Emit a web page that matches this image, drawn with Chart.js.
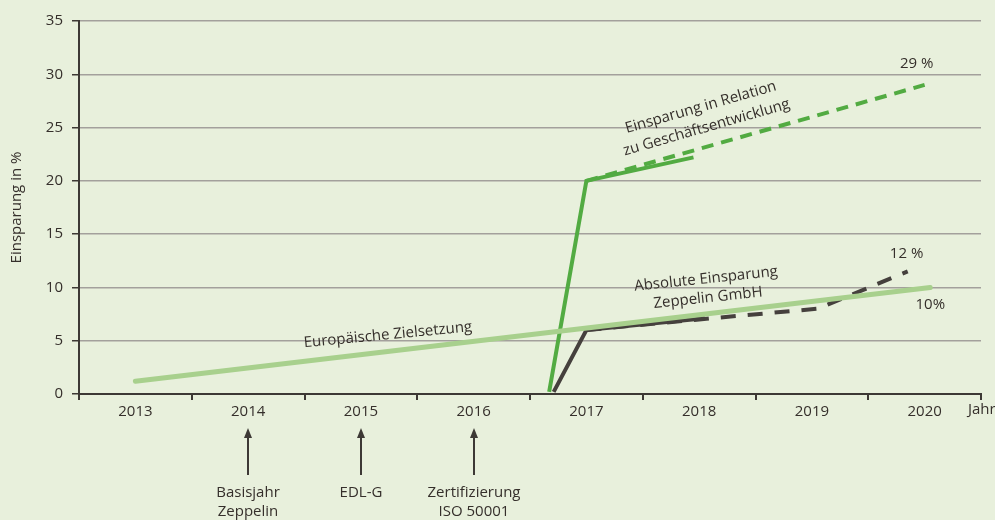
<!DOCTYPE html>
<html>
<head>
<meta charset="utf-8">
<script src="https://cdn.jsdelivr.net/npm/chart.js@4"></script>
<style>
  html, body { margin: 0; padding: 0; background: #e8f0dc; }
  #wrap { width: 995px; height: 520px; }
</style>
</head>
<body>
<div id="wrap"><canvas id="grafico" width="995" height="520"></canvas></div>
<script>
// Jahre (Achsenbeschriftung)
const jahre = [2013, 2014, 2015, 2016, 2017, 2018, 2019, 2020];
const yTicks = [0, 5, 10, 15, 20, 25, 30, 35];

// Europäische Zielsetzung
const zielX = [2013, 2020.05];
const zielY = [1.2, 10];

// Einsparung in Relation zu Geschäftsentwicklung
const relX = [2016.67, 2017, 2017.95];
const relY = [0.2, 20, 22.2];
const relPlanX = [2017, 2020];
const relPlanY = [20, 29];

// Absolute Einsparung Zeppelin GmbH
const absX = [2016.71, 2017, 2018.05];
const absY = [0.2, 6, 7.1];
const absPlanX = [2017, 2018, 2019.05, 2019.85];
const absPlanY = [6, 7, 8, 11.5];

// Ereignisse unter der Achse
const ereignisJahre = [2014, 2015, 2016];
const ereignisTexte = [["Basisjahr", "Zeppelin"], ["EDL-G"], ["Zertifizierung", "ISO 50001"]];

const schrift = "'Open Sans', sans-serif";
const textFarbe = "#352f2b";
const dunkel = "#3d3935";

function punkte(xs, ys) {
  return xs.map((x, i) => ({ x: x, y: ys[i] }));
}

function drehText(ctx, zeilen, px, py, winkel, abstand) {
  ctx.save();
  ctx.translate(px, py);
  ctx.rotate(winkel * Math.PI / 180);
  const n = zeilen.length;
  zeilen.forEach((z, i) => {
    ctx.fillText(z, 0, (i - (n - 1) / 2) * abstand);
  });
  ctx.restore();
}

const beschriftung = {
  id: "beschriftung",
  afterDraw(chart) {
    const ctx = chart.ctx;
    const xs = chart.scales.x;
    const ys = chart.scales.y;
    const unten = chart.chartArea.bottom;
    ctx.save();
    ctx.fillStyle = textFarbe;
    ctx.font = "15px " + schrift;
    ctx.textAlign = "center";
    ctx.textBaseline = "middle";

    drehText(ctx, ["Einsparung in Relation", "zu Geschäftsentwicklung"],
      xs.getPixelForValue(2018.04), ys.getPixelForValue(25.95), -16, 21);
    drehText(ctx, ["Absolute Einsparung", "Zeppelin GmbH"],
      xs.getPixelForValue(2018.07), ys.getPixelForValue(9.9), -6, 19);
    drehText(ctx, ["Europäische Zielsetzung"],
      xs.getPixelForValue(2015.24), ys.getPixelForValue(5.54), -5.5, 0);

    ctx.fillText("29 %", xs.getPixelForValue(2019.93), ys.getPixelForValue(30.96));
    ctx.fillText("12 %", xs.getPixelForValue(2019.84), ys.getPixelForValue(13.2));
    ctx.fillText("10%", xs.getPixelForValue(2020.05), ys.getPixelForValue(8.35));

    ctx.textAlign = "left";
    ctx.fillText("Jahr", chart.chartArea.right - 13, unten + 16);

    // Pfeile
    ctx.strokeStyle = dunkel;
    ctx.lineWidth = 2;
    ereignisJahre.forEach((j, i) => {
      const px = Math.round(xs.getPixelForValue(j));
      ctx.beginPath();
      ctx.moveTo(px, unten + 81);
      ctx.lineTo(px, unten + 42);
      ctx.stroke();
      ctx.beginPath();
      ctx.moveTo(px, unten + 34);
      ctx.lineTo(px - 4, unten + 44);
      ctx.lineTo(px + 4, unten + 44);
      ctx.closePath();
      ctx.fillStyle = dunkel;
      ctx.fill();
      ctx.fillStyle = textFarbe;
      ctx.textAlign = "center";
      ereignisTexte[i].forEach((t, k) => {
        ctx.fillText(t, px, unten + 99 + k * 19);
      });
    });
    ctx.restore();
  }
};

new Chart(document.getElementById("grafico"), {
  type: "line",
  data: {
    datasets: [
      { data: punkte(zielX, zielY), borderColor: "#a8d08d", borderWidth: 5, borderCapStyle: "round" },
      { data: punkte(absX, absY), borderColor: "#45403d", borderWidth: 4 },
      { data: punkte(absPlanX, absPlanY), borderColor: "#45403d", borderWidth: 4, borderDash: [15, 12] },
      { data: punkte(relX, relY), borderColor: "#52ab42", borderWidth: 4 },
      { data: punkte(relPlanX, relPlanY), borderColor: "#52ab42", borderWidth: 4, borderDash: [12, 8] }
    ]
  },
  options: {
    responsive: false,
    animation: false,
    devicePixelRatio: 1,
    layout: { padding: { top: 21, right: 14, bottom: 0, left: 0 } },
    elements: {
      point: { radius: 0 },
      line: { tension: 0, fill: false }
    },
    datasets: { line: { clip: false } },
    plugins: {
      legend: { display: false },
      tooltip: { enabled: false }
    },
    scales: {
      x: {
        type: "linear",
        min: 2012.5,
        max: 2020.5,
        afterFit: s => { s.height = 126; },
        afterBuildTicks: s => {
          const t = [];
          for (let v = 2012.5; v <= 2020.5; v += 0.5) t.push({ value: v });
          s.ticks = t;
        },
        ticks: {
          autoSkip: false,
          maxRotation: 0,
          padding: 3,
          color: textFarbe,
          font: { family: schrift, size: 15 },
          callback: v => (jahre.includes(v) ? String(v) : "")
        },
        grid: {
          drawOnChartArea: false,
          tickLength: 6,
          lineWidth: 2,
          tickColor: c => (c.tick && Number.isInteger(c.tick.value) ? "rgba(0,0,0,0)" : dunkel)
        },
        border: { color: dunkel, width: 2 }
      },
      y: {
        min: 0,
        max: 35,
        afterFit: s => { s.width = 79; },
        afterBuildTicks: s => { s.ticks = yTicks.map(v => ({ value: v })); },
        ticks: {
          padding: 9,
          color: textFarbe,
          font: { family: schrift, size: 15 }
        },
        grid: {
          color: "#a3a09c",
          lineWidth: 1.5,
          tickLength: 7,
          tickColor: dunkel
        },
        border: { color: dunkel, width: 2 },
        title: {
          display: true,
          text: "Einsparung in %",
          color: textFarbe,
          font: { family: schrift, size: 15 },
          padding: { top: 8, bottom: 0 }
        }
      }
    }
  },
  plugins: [beschriftung]
});
</script>
</body>
</html>
